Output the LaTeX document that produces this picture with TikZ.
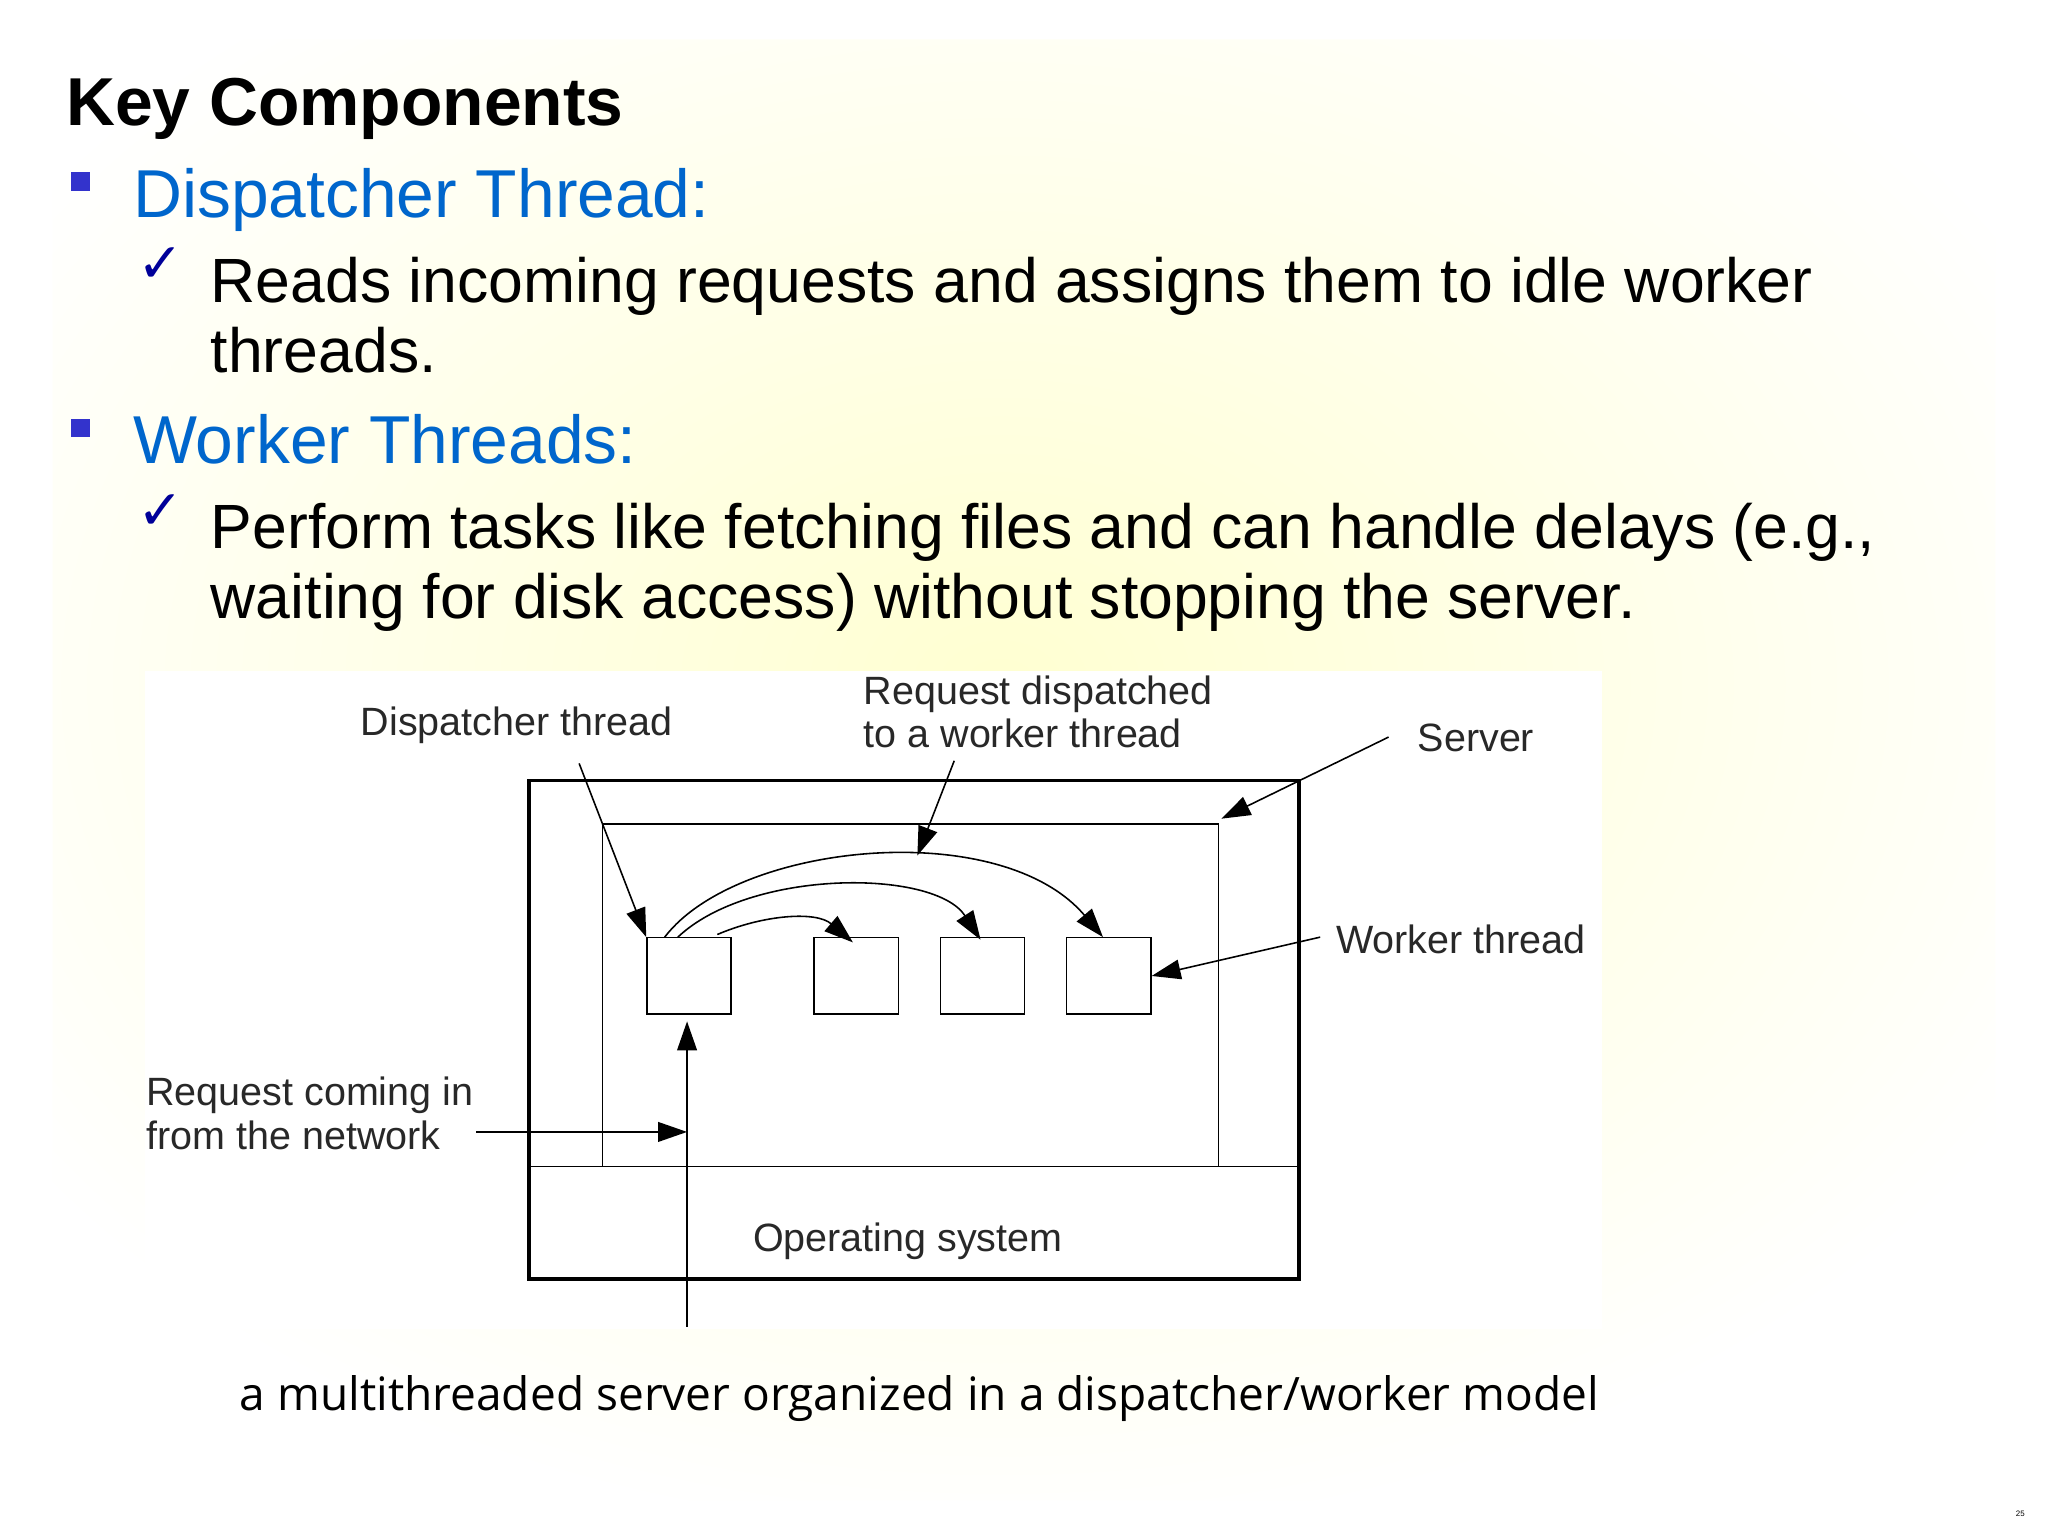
\documentclass[tikz,border=0pt]{standalone}
\usepackage{fontspec}
\setmainfont{Liberation Sans}
\newfontfamily\dejavu{DejaVu Sans}
\newfontfamily\capfont{Open Sans}
\usetikzlibrary{arrows.meta}
\definecolor{hblue}{RGB}{0,102,204}
\definecolor{bsq}{RGB}{51,51,204}
\definecolor{lbl}{RGB}{40,40,40}
\begin{document}
\begin{tikzpicture}[x=1pt,y=-1pt,
  lab/.style={anchor=west,inner sep=0,text=lbl,font=\fontsize{30}{33}\selectfont},
  arr/.style={-{Triangle[length=22pt,width=15pt]},line width=1.2pt},
  wbox/.style={draw,line width=1pt,minimum width=64pt,minimum height=58pt,inner sep=0,anchor=north west},
  body/.style={anchor=base west,inner sep=0,font=\fontsize{47.5}{56}\selectfont},
  head/.style={anchor=base west,inner sep=0,text=hblue,font=\fontsize{51.5}{58}\selectfont},
  chk/.style={anchor=base west,inner sep=0,text=blue!60!black,font=\dejavu\fontsize{42}{46}\selectfont},
  sq/.style={fill=bsq,minimum size=14pt,inner sep=0}]
\useasboundingbox (0,0) rectangle (1556,1167);
\fill[white] (0,0) rectangle (1556,1167);
\shade[inner color=yellow!18,outer color=white] (760,520) ellipse (900 and 650);
\fill[white] (0,0) rectangle (1556,1167) [even odd rule] (40,30) rectangle (1516,1140);
% text
\node[anchor=base west,inner sep=0,font=\bfseries\fontsize{51.5}{60}\selectfont] (title) at (50,95) {Key Components};
\node[sq] (b1) at (61,138) {};
\node[head] (h1) at (101,165) {Dispatcher Thread:};
\node[chk] (c1) at (104,215) {✓};
\node[body] (t1) at (160,230) {Reads incoming requests and assigns them to idle worker};
\node[body] (t1b) at (160,283) {threads.};
\node[sq] (b2) at (61,325) {};
\node[head] (h2) at (101,352) {Worker Threads:};
\node[chk] (c2) at (104,402) {✓};
\node[body] (t2) at (160,417) {Perform tasks like fetching files and can handle delays (e.g.,};
\node[body] (t2b) at (160,470) {waiting for disk access) without stopping the server.};
% diagram
\fill[white] (110,510) rectangle (1217,1010);
\draw[line width=3pt] (402,593) rectangle (987,972);
\draw[line width=1pt] (458,886) -- (458,626) -- (926,626) -- (926,886);
\draw[line width=1pt] (402,886) -- (987,886);
\node[wbox] (w0) at (491,712) {};
\node[wbox] (w1) at (618,712) {};
\node[wbox] (w2) at (714,712) {};
\node[wbox] (w3) at (810,712) {};
\node[lab] (ld) at (274,551) {Dispatcher thread};
\node[lab,align=left] (lr) at (656,541) {Request dispatched\\to a worker thread};
\node[lab] (ls) at (1077,561) {Server};
\node[lab] (lw) at (1015,714) {Worker thread};
\node[lab,align=left] (ln) at (111,846) {Request coming in\\from the network};
\node[lab] (los) at (572,943) {Operating system};
\coordinate (dA) at (440,580);
\coordinate (rA) at (725,578);
\coordinate (sA) at (1055,560);
\coordinate (sB) at (928,622);
\coordinate (wA) at (1003,712);
\coordinate (nA) at (362,860);
\coordinate (nB) at (522,860);
\coordinate (vA) at (522,1008);
\draw[arr] (dA) -- (w0.north west);
\draw[arr] (rA) -- (697,650);
\draw[arr] (sA) -- (sB);
\draw[arr] (wA) -- (w3.east);
\draw[arr] (nA) -- (nB);
\draw[arr] (vA) -- (522,776);
\draw[arr] (505,712) .. controls (560,640) and (760,620) .. (838,712);
\draw[arr] (515,712) .. controls (570,660) and (710,660) .. (745,714);
\draw[arr] (545,710) .. controls (580,695) and (620,692) .. (648,716);
\node[anchor=base west,inner sep=0,font=\capfont\fontsize{35}{40}\selectfont] (cap) at (182,1072) {a multithreaded server organized in a dispatcher/worker model};
\node[inner sep=0,font=\fontsize{6}{7}\selectfont] (pg) at (1535,1150) {25};
\end{tikzpicture}
\end{document}
